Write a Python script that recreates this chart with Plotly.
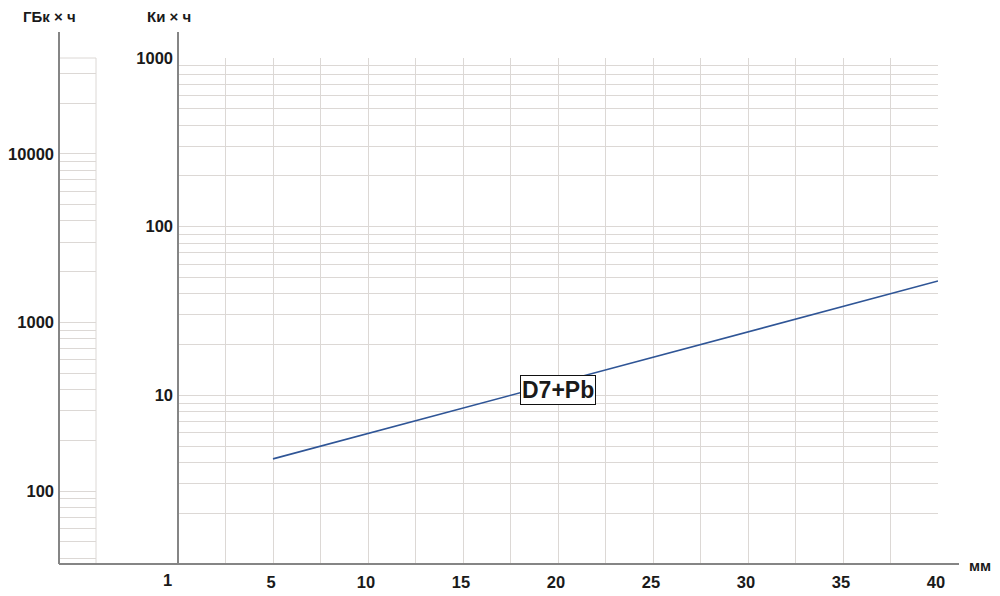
import numpy as np
import plotly.graph_objects as go

# ---- data ----
thickness_mm = [5, 40]
activity_ci_h = [4.2, 47.6]
series_label = "D7+Pb"

x_grid_vals = [0, 2.5, 5, 7.5, 10, 12.5, 15, 17.5, 20, 22.5, 25, 27.5, 30, 32.5, 35, 37.5, 40]
x_tick_text = ["", "", "5", "", "10", "", "15", "", "20", "", "25", "", "30", "", "35", "", "40"]
x_first_label = "1"

ci_decades = [1, 10, 100, 1000]
ci_labels = ["", "10", "100", "1000"]
gbq_decades = [10, 100, 1000, 10000]
gbq_labels = ["", "100", "1000", "10000"]
CI_TO_GBQ = 37.0

W, H = 1000, 596
FONT = "Liberation Sans, Arial, sans-serif"
GRID = "#dcd8d5"
AXIS = "#858585"
TXT = "#1a1a1a"


def log_grid(decades, labels, lo, hi):
    vals, texts = [], []
    for d, lab in zip(decades, labels):
        for m in range(1, 10):
            v = d * m
            if lo * 0.999 <= v <= hi * 1.001:
                vals.append(v)
                texts.append(lab if m == 1 else "")
    return vals, texts


ci_lo, ci_hi = 1, 1000
gb_lo, gb_hi = ci_lo * CI_TO_GBQ, ci_hi * CI_TO_GBQ
ci_vals, ci_text = log_grid(ci_decades, ci_labels, ci_lo, ci_hi)
gb_vals, gb_text = log_grid(gbq_decades, gbq_labels, gb_lo, gb_hi)


def px(xp):
    return xp / W


def py(yp):
    return (H - yp) / H


fig = go.Figure()
fig.add_trace(go.Scatter(x=thickness_mm, y=activity_ci_h, mode="lines",
                         line=dict(color="#2f5596", width=1.6),
                         xaxis="x", yaxis="y", showlegend=False, hoverinfo="skip"))
# invisible trace for GBq strip axes
fig.add_trace(go.Scatter(x=[0.5], y=[1000], mode="markers", marker=dict(opacity=0),
                         xaxis="x2", yaxis="y2", showlegend=False, hoverinfo="skip"))

y0, y1 = py(564), py(58)
tf = dict(size=16.5, weight="bold", color=TXT, family=FONT)
fig.update_layout(
    width=W, height=H, margin=dict(l=0, r=0, t=0, b=0, autoexpand=False),
    paper_bgcolor="white", plot_bgcolor="white",
    font=dict(family=FONT, color=TXT),
    xaxis=dict(domain=[px(178), px(938)], range=[0, 40], tickmode="array",
               tickvals=x_grid_vals, ticktext=x_tick_text, showgrid=True,
               gridcolor=GRID, gridwidth=1, zeroline=False, showline=False,
               ticks="", tickfont=tf, automargin=False,
               ticklabelstandoff=6, ticklabelshift=-2, anchor="y"),
    yaxis=dict(domain=[y0, y1], type="log", range=[np.log10(ci_lo), np.log10(ci_hi)],
               tickmode="array", tickvals=ci_vals, ticktext=ci_text, showgrid=True,
               gridcolor=GRID, gridwidth=1, zeroline=False, showline=False, ticks="",
               tickfont=tf, ticklabelstandoff=4, automargin=False, anchor="x"),
    xaxis2=dict(domain=[px(59), px(96)], range=[0, 1], showgrid=False, zeroline=False,
                showticklabels=False, showline=False, ticks="", automargin=False,
                anchor="y2"),
    yaxis2=dict(domain=[y0, y1], type="log", range=[np.log10(gb_lo), np.log10(gb_hi)],
                tickmode="array", tickvals=gb_vals, ticktext=gb_text, showgrid=True,
                gridcolor=GRID, gridwidth=1, zeroline=False, showline=False, ticks="",
                tickfont=tf, ticklabelstandoff=4, automargin=False, anchor="x2"),
)

shapes = [
    # strip border
    dict(type="line", xref="paper", yref="paper", x0=px(59), x1=px(96), y0=y1, y1=y1,
         line=dict(color=GRID, width=1)),
    dict(type="line", xref="paper", yref="paper", x0=px(96), x1=px(96), y0=y0, y1=y1,
         line=dict(color=GRID, width=1)),
    # axis lines
    dict(type="line", xref="paper", yref="paper", x0=px(59), x1=px(59), y0=y0, y1=py(32),
         line=dict(color=AXIS, width=2)),
    dict(type="line", xref="paper", yref="paper", x0=px(178), x1=px(178), y0=y0, y1=py(32),
         line=dict(color=AXIS, width=2)),
    dict(type="line", xref="paper", yref="paper", x0=px(59), x1=px(959), y0=y0, y1=y0,
         line=dict(color=AXIS, width=2)),
]
fig.update_layout(shapes=shapes)

bold = dict(family=FONT, color=TXT, weight="bold")
annotations = [
    dict(text="ГБк × ч", x=px(49.5), y=py(17), xref="paper", yref="paper",
         showarrow=False, font=dict(size=15, **bold), xanchor="center", yanchor="middle"),
    dict(text="Ки × ч", x=px(169), y=py(17), xref="paper", yref="paper",
         showarrow=False, font=dict(size=15, **bold), xanchor="center", yanchor="middle"),
    dict(text="мм", x=px(980), y=py(565), xref="paper", yref="paper",
         showarrow=False, font=dict(size=15, **bold), xanchor="center", yanchor="middle"),
    dict(text=x_first_label, x=0, y=py(580), xref="x", yref="paper", xshift=-11,
         showarrow=False, font=dict(size=16.5, **bold), xanchor="center", yanchor="middle"),
    dict(text=series_label, x=20, y=np.log10(10.7), xref="x", yref="y",
         showarrow=False, font=dict(size=23, **bold), bgcolor="white",
         bordercolor="#111", borderwidth=1, borderpad=1,
         xanchor="center", yanchor="middle"),
]
fig.update_layout(annotations=annotations)

fig.write_html("out.html", config={"displayModeBar": False},
               post_script="document.body.style.margin='0';")
